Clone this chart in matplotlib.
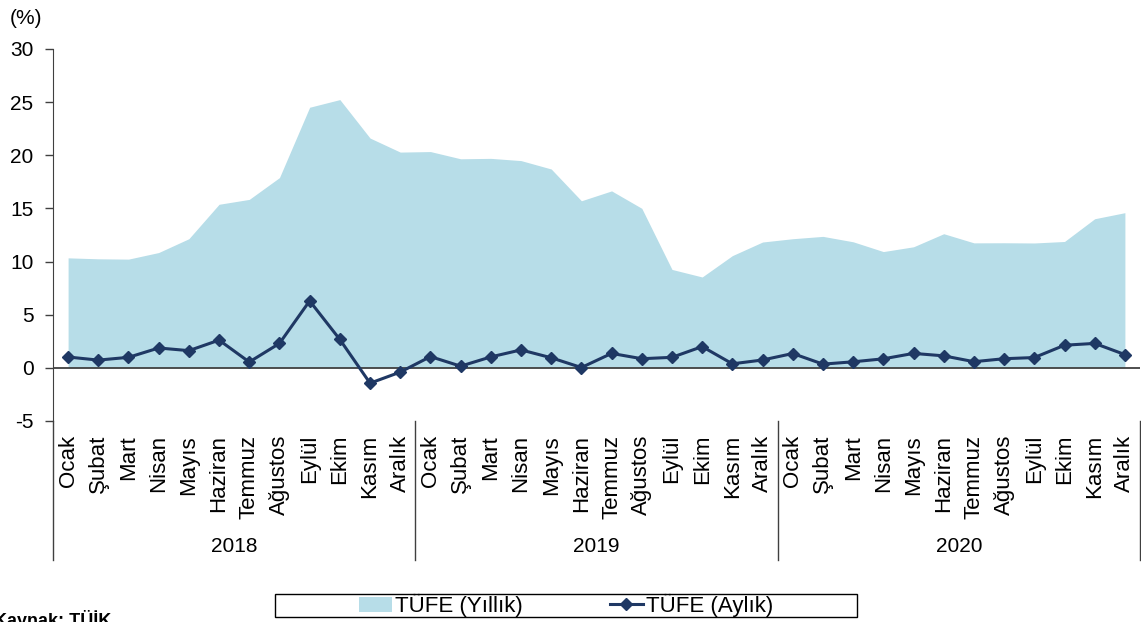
import matplotlib.pyplot as plt
from matplotlib.patches import Rectangle
import numpy as np

plt.rcParams['font.family'] = ['Liberation Sans', 'DejaVu Sans']

years = ['2018', '2019', '2020']
months = ['Ocak', 'Şubat', 'Mart', 'Nisan', 'Mayıs', 'Haziran', 'Temmuz',
          'Ağustos', 'Eylül', 'Ekim', 'Kasım', 'Aralık']

# TÜFE yıllık (%)
annual = [10.35, 10.26, 10.23, 10.85, 12.15, 15.39, 15.85, 17.90, 24.52, 25.24, 21.62, 20.30,
          20.35, 19.67, 19.71, 19.50, 18.71, 15.72, 16.65, 15.01, 9.26, 8.55, 10.56, 11.84,
          12.15, 12.37, 11.86, 10.94, 11.39, 12.62, 11.76, 11.77, 11.75, 11.89, 14.03, 14.60]
# TÜFE aylık (%)
monthly = [1.02, 0.73, 0.99, 1.87, 1.62, 2.61, 0.55, 2.30, 6.30, 2.67, -1.44, -0.40,
           1.06, 0.16, 1.03, 1.69, 0.95, 0.03, 1.36, 0.86, 0.99, 2.00, 0.38, 0.74,
           1.35, 0.35, 0.57, 0.85, 1.36, 1.13, 0.58, 0.86, 0.97, 2.13, 2.30, 1.25]

W, H = 1141, 622
fig = plt.figure(figsize=(W / 100, H / 100), dpi=100)
ax = fig.add_axes([53 / W, 1 - 421 / H, (1140 - 53) / W, (421 - 49) / H])

n = len(annual)
x = np.arange(n)
area_col = '#B7DDE8'
line_col = '#1F3864'

ax.fill_between(x, annual, 0, color=area_col, lw=0, label='TÜFE (Yıllık)', zorder=1)
ax.axhline(0, color='#404040', lw=1.3, zorder=2)
ax.plot(x, monthly, color=line_col, lw=2.2, marker='D', ms=6, label='TÜFE (Aylık)', zorder=3)

ax.set_xlim(-0.5, n - 0.5)
ax.set_ylim(-5, 30)
ax.set_yticks(range(-5, 31, 5))
ax.set_yticklabels([str(v) for v in range(-5, 31, 5)], fontsize=15)
ax.tick_params(axis='y', direction='out', length=6, width=1, color='#404040', pad=8)

ax.set_xticks(x)
ax.set_xticklabels(months * len(years), rotation=90, fontsize=16, va='top')
ax.tick_params(axis='x', length=0, pad=10)

for s in ['top', 'right', 'bottom']:
    ax.spines[s].set_visible(False)
ax.spines['left'].set_color('#404040')
ax.spines['left'].set_bounds(-5, 30)

# category-axis separators and year labels
trans = ax.get_xaxis_transform()
y_bot = -(560 - 421) / (421 - 49)
for i in range(len(years) + 1):
    xs = i * 12 - 0.5
    ax.plot([xs, xs], [0, y_bot], color='#404040', lw=1, transform=trans, clip_on=False)
for i, yr in enumerate(years):
    ax.text(i * 12 + 5.5, -(547 - 421) / (421 - 49), yr, transform=trans,
            ha='center', va='center', fontsize=15)

fig.text(10 / W, 1 - 18 / H, '(%)', fontsize=15, ha='left', va='center')
fig.text(-6 / W, 1 - 610 / H, 'Kaynak: TÜİK', fontsize=13, fontweight='bold',
         ha='left', va='top')

# legend box drawn separately so it can be wider than its content
fig.patches.append(Rectangle((275 / W, 1 - 617 / H), (857 - 275) / W, 23 / H,
                             transform=fig.transFigure, fill=False,
                             edgecolor='black', lw=1))
leg = fig.legend(loc='center', bbox_to_anchor=(566 / W, 1 - 605.5 / H), ncol=2,
                 fontsize=16, frameon=False, borderpad=0, columnspacing=3.9,
                 handlelength=1.5, handletextpad=0.15)

fig.savefig('out.png', dpi=100)
